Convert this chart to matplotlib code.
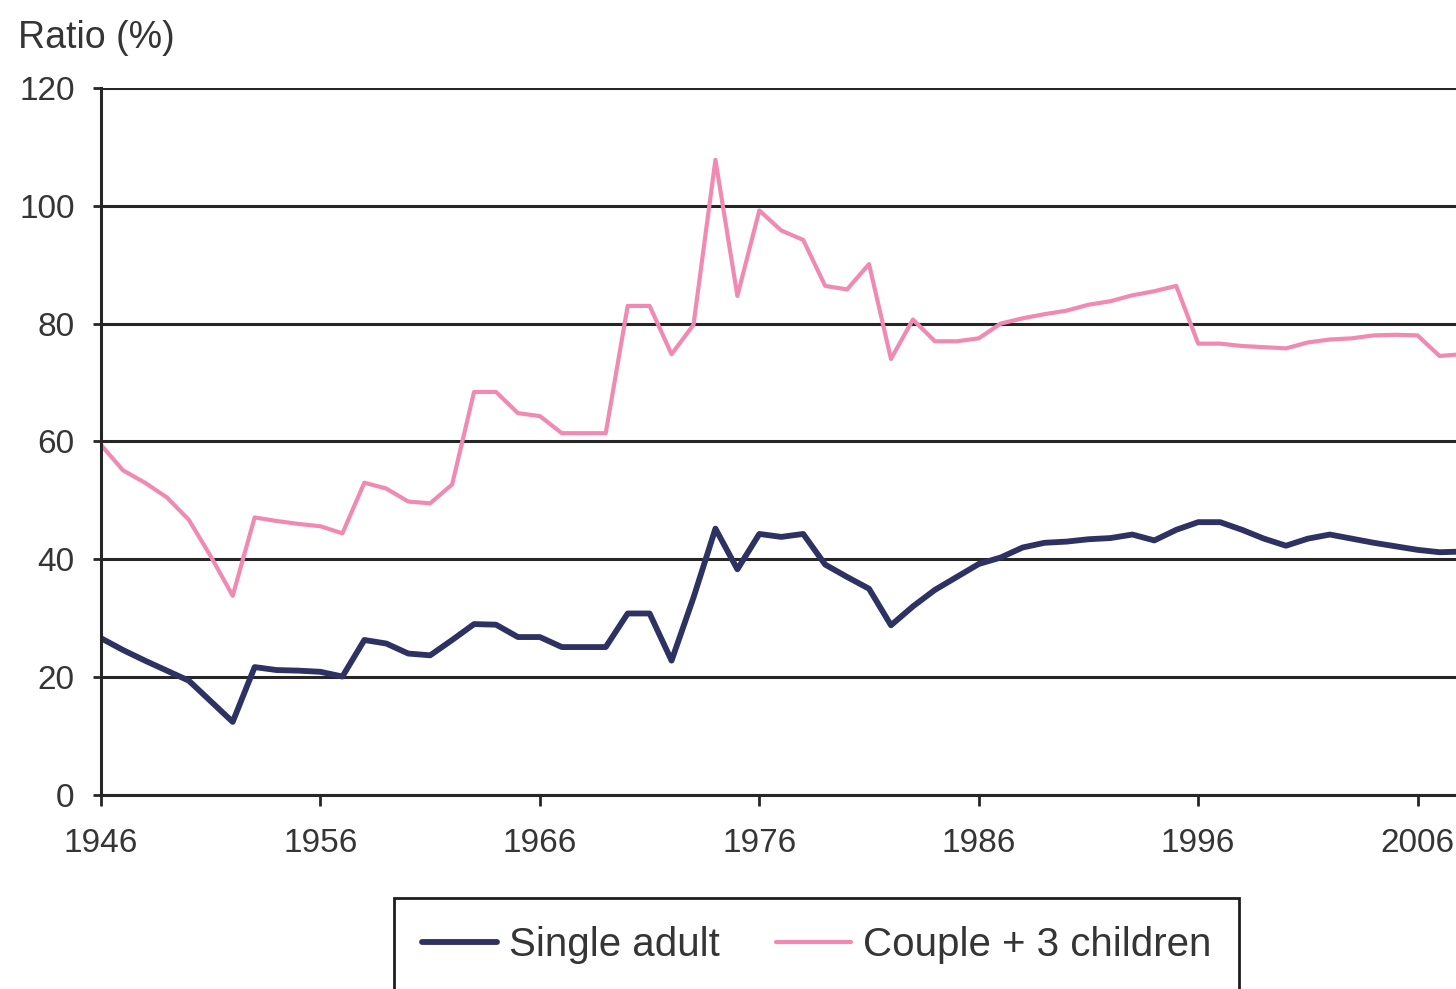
import matplotlib.pyplot as plt

plt.rcParams['font.family'] = ['Liberation Sans', 'DejaVu Sans']

years = list(range(1946, 2009))

# ratio for a single adult (%)
single_adult = [
    26.6, 24.6, 22.8, 21.1, 19.4, 15.9, 12.4, 21.7, 21.2, 21.1,
    20.9, 20.1, 26.3, 25.7, 24.0, 23.7, 26.3, 29.0, 28.9, 26.8,
    26.8, 25.1, 25.1, 25.1, 30.8, 30.8, 22.8, 33.5, 45.2, 38.3,
    44.3, 43.8, 44.3, 39.1, 37.0, 35.0, 28.8, 32.0, 34.8, 37.0,
    39.2, 40.3, 42.0, 42.8, 43.0, 43.4, 43.6, 44.2, 43.2, 45.0,
    46.3, 46.3, 45.0, 43.5, 42.3, 43.5, 44.2, 43.5, 42.8, 42.2,
    41.6, 41.2, 41.3,
]

# ratio for a couple with three children (%)
couple_3_children = [
    59.4, 55.1, 53.0, 50.5, 46.7, 40.5, 33.8, 47.1, 46.5, 46.0,
    45.6, 44.4, 53.0, 52.0, 49.8, 49.5, 52.7, 68.4, 68.4, 64.8,
    64.3, 61.4, 61.4, 61.4, 83.0, 83.0, 74.8, 79.8, 107.8, 84.7,
    99.2, 95.8, 94.2, 86.4, 85.8, 90.1, 74.0, 80.7, 77.0, 77.0,
    77.5, 80.0, 80.9, 81.6, 82.2, 83.2, 83.8, 84.8, 85.5, 86.4,
    76.6, 76.6, 76.2, 76.0, 75.8, 76.8, 77.3, 77.5, 78.0, 78.1,
    78.0, 74.5, 74.8,
]

x_ticks = [1946, 1956, 1966, 1976, 1986, 1996, 2006]
y_ticks = [0, 20, 40, 60, 80, 100, 120]

navy = '#2d3263'
pink = '#f08ab2'
ink = '#262626'
text_col = '#353535'

fig = plt.figure(figsize=(14.56, 9.89), dpi=100)
ax = fig.add_axes([0.0694, 0.1962, 0.9306, 0.7149])

ax.plot(years, single_adult, color=navy, lw=4.2, label='Single adult',
        solid_joinstyle='round', solid_capstyle='round')
ax.plot(years, couple_3_children, color=pink, lw=3.0,
        label='Couple + 3 children', solid_joinstyle='round',
        solid_capstyle='round')

ax.set_xlim(1946, 2007.75)
ax.set_ylim(0, 120)
ax.set_xticks(x_ticks)
ax.set_yticks(y_ticks)

ax.yaxis.grid(True, color=ink, lw=2.2)
ax.set_axisbelow(True)
for side in ['top', 'right']:
    ax.spines[side].set_visible(False)
for side in ['left', 'bottom']:
    ax.spines[side].set_color(ink)
    ax.spines[side].set_linewidth(2.2)

ax.tick_params(axis='y', length=6, width=2.0, color=ink, pad=13,
               labelsize=24, labelcolor=text_col)
ax.tick_params(axis='x', length=8, width=2.0, color=ink, pad=16,
               labelsize=24, labelcolor=text_col)

fig.text(0.0124, 0.9616, 'Ratio (%)', fontsize=27, color=text_col,
         ha='left', va='center')

leg = fig.legend(loc='upper center', bbox_to_anchor=(0.561, 1 - 898 / 989),
                 ncol=2, fontsize=29, frameon=True, fancybox=False,
                 framealpha=1, edgecolor='#1e1e1e', borderpad=0.7,
                 borderaxespad=0, handlelength=1.85, handletextpad=0.3,
                 columnspacing=1.4, labelcolor=text_col)
leg.get_frame().set_linewidth(2.0)

fig.savefig('out.png', dpi=100)
